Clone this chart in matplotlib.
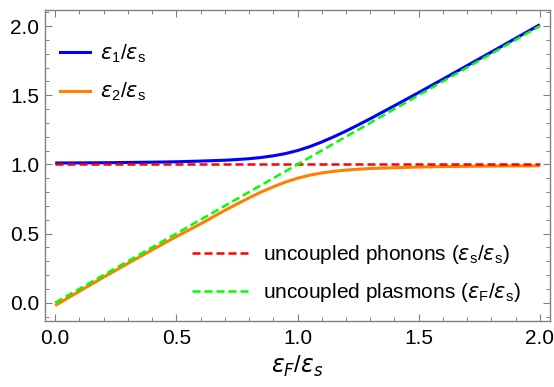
import matplotlib
matplotlib.use("Agg")
import matplotlib.pyplot as plt
from matplotlib.lines import Line2D
from matplotlib.ticker import MultipleLocator

plt.rcParams["font.family"] = ["Liberation Sans", "DejaVu Sans"]
plt.rcParams["mathtext.fontset"] = "custom"
plt.rcParams["mathtext.rm"] = "Liberation Sans"
plt.rcParams["mathtext.it"] = "DejaVu Sans:italic"
plt.rcParams["mathtext.fallback"] = "stixsans"

# Fermi energy in units of the phonon energy
ef = [0.0, 0.1, 0.2, 0.3, 0.4, 0.5, 0.6, 0.7, 0.75, 0.8, 0.85, 0.9, 0.95, 1.0,
      1.05, 1.1, 1.15, 1.2, 1.25, 1.3, 1.4, 1.5, 1.6, 1.7, 1.8, 1.9, 2.0]
# upper and lower coupled branches
eps1 = [1.010, 1.011, 1.012, 1.014, 1.016, 1.019, 1.024, 1.030, 1.035, 1.041,
        1.050, 1.062, 1.078, 1.100, 1.128, 1.162, 1.200, 1.241, 1.285, 1.330,
        1.424, 1.519, 1.616, 1.714, 1.812, 1.911, 2.010]
eps2 = [-0.020, 0.083, 0.185, 0.284, 0.382, 0.478, 0.570, 0.668, 0.713, 0.758,
        0.800, 0.838, 0.872, 0.900, 0.922, 0.938, 0.950, 0.959, 0.965, 0.970,
        0.976, 0.981, 0.984, 0.986, 0.988, 0.989, 0.990]
# uncoupled modes
ends = [0.0, 2.0]
phonon = [1.0, 1.0]
plasmon = [0.0, 2.0]

BLUE = "#0000ff"
ORANGE = "#ff8000"
RED = "#ff0000"
GREEN = "#00ff00"
FRAME = "#808080"

fig = plt.figure(figsize=(5.54, 3.87), dpi=100)
ax = fig.add_axes([45 / 554, 1 - 321 / 387, 505 / 554, 311 / 387])

ax.plot(ef, eps1, color=BLUE, lw=2.2, solid_capstyle="butt")
ax.plot(ef, eps2, color=ORANGE, lw=2.2, solid_capstyle="butt")
ax.plot(ends, phonon, color=RED, lw=1.8, dashes=(3.2, 1.6))
ax.plot(ends, plasmon, color=GREEN, lw=1.8, dashes=(3.2, 1.6))

ax.set_xlim(-0.042, 2.042)
ax.set_ylim(-0.132, 2.116)
ax.xaxis.set_major_locator(MultipleLocator(0.5))
ax.xaxis.set_minor_locator(MultipleLocator(0.1))
ax.yaxis.set_major_locator(MultipleLocator(0.5))
ax.yaxis.set_minor_locator(MultipleLocator(0.1))
ax.xaxis.set_major_formatter(lambda v, p: f"{v:.1f}")
ax.yaxis.set_major_formatter(lambda v, p: f"{v:.1f}")

for spine in ax.spines.values():
    spine.set_color(FRAME)
    spine.set_linewidth(1.0)
ax.tick_params(which="both", direction="in", top=True, right=True,
               color=FRAME, labelsize=15, labelcolor="black")
ax.tick_params(which="major", length=5, width=0.8, pad=4)
ax.tick_params(which="minor", length=3, width=0.7)
ax.tick_params(axis="x", which="major", pad=6)

ax.set_xlabel(r"$\epsilon_F/\epsilon_s$", fontsize=17, labelpad=4)

branch_handles = [Line2D([], [], color=BLUE, lw=2.2),
                  Line2D([], [], color=ORANGE, lw=2.2)]
leg1 = ax.legend(branch_handles,
                 [r"$\epsilon_1/\epsilon_\mathrm{s}$", r"$\epsilon_2/\epsilon_\mathrm{s}$"],
                 loc="upper left", bbox_to_anchor=(60 / 554, 1 - 42 / 387),
                 bbox_transform=fig.transFigure, frameon=False, fontsize=15,
                 handlelength=1.44, handletextpad=0.48, labelspacing=0.78,
                 borderpad=0, borderaxespad=0)
ax.add_artist(leg1)

mode_handles = [Line2D([], [], color=RED, lw=1.8, dashes=(3.2, 1.6)),
                Line2D([], [], color=GREEN, lw=1.8, dashes=(3.2, 1.6))]
ax.legend(mode_handles,
          [r"uncoupled phonons ($\epsilon_\mathrm{s}/\epsilon_\mathrm{s}$)",
           r"uncoupled plasmons ($\epsilon_\mathrm{F}/\epsilon_\mathrm{s}$)"],
          loc="upper left", bbox_to_anchor=(192 / 554, 1 - 243 / 387),
          bbox_transform=fig.transFigure, frameon=False, fontsize=15,
          handlelength=2.7, handletextpad=0.72, labelspacing=0.72,
          borderpad=0, borderaxespad=0)

fig.savefig("out.png", dpi=100)
